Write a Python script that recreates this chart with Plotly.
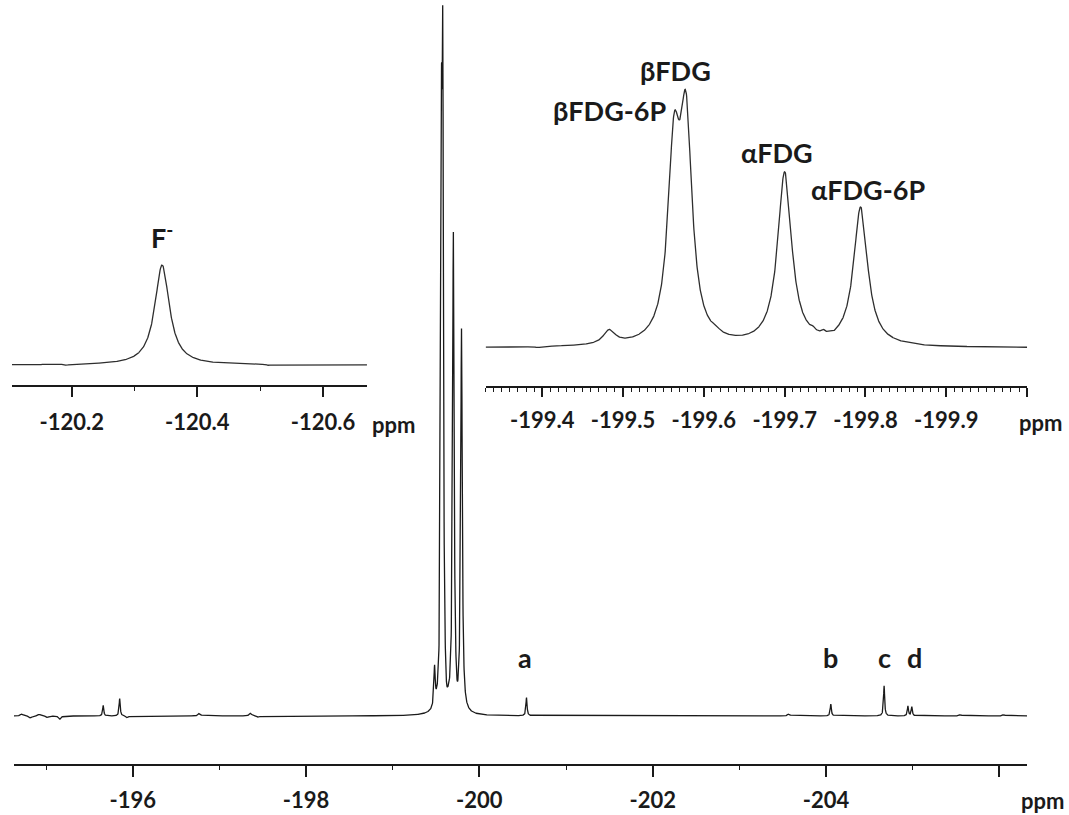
import numpy as np
import plotly.graph_objects as go

# ---------------- data ----------------
# FDG region peaks (shared by the main spectrum and the right inset)
# heights in units where the tallest (betaFDG) maximum = 100
fdg_ppm = [-199.483, -199.563, -199.578, -199.700, -199.794]
fdg_height = [5.5, 69.8, 81.5, 67.8, 54.3]
fdg_fwhm = [0.018, 0.018, 0.018, 0.021, 0.021]

# small extra features visible only in the right inset baseline
inset_ppm = [-199.395, -199.43, -199.615, -199.735, -199.748, -199.762, -199.88]
inset_height = [-0.4, 0.4, 1.2, 1.0, 1.1, -0.5, -0.3]
inset_fwhm = [0.008, 0.008, 0.010, 0.005, 0.005, 0.005, 0.01]

# other signals of the full spectrum (main panel)
main_ppm = [-194.72, -194.82, -194.92, -195.02, -195.16, -195.66, -195.85,
            -195.94, -196.77, -197.36, -197.45, -199.62, -199.745,
            -200.544, -203.57, -204.055, -204.67, -204.945, -204.99,
            -205.55, -206.05]
main_height = [0.3, -0.3, 0.25, -0.25, -0.45, 1.5, 2.5,
               -0.3, 0.4, 0.4, -0.2, -1.7, -1.3,
               2.6, 0.3, 1.7, 4.3, 1.4, 1.3,
               0.2, 0.2]
main_fwhm = [0.03, 0.03, 0.03, 0.03, 0.03, 0.015, 0.015,
             0.03, 0.03, 0.03, 0.03, 0.03, 0.03,
             0.015, 0.03, 0.015, 0.015, 0.015, 0.015,
             0.03, 0.03]

# fluoride signal (left inset)
f_ppm = [-120.344, -120.192, -120.513]
f_height = [100.0, -1.2, -1.0]
f_fwhm = [0.028, 0.006, 0.006]

# axis ticks
main_tick_vals = [-196, -198, -200, -202, -204, -206]
main_tick_text = ["-196", "-198", "-200", "-202", "-204", " "]
main_minor_vals = [-195, -197, -199, -201, -203, -205]

left_tick_vals = [-120.2, -120.4, -120.6]
left_tick_text = ["-120.2", "-120.4", "-120.6"]
left_minor_vals = [-120.3, -120.5]

right_tick_vals = [-199.4, -199.5, -199.6, -199.7, -199.8, -199.9, -200.0]
right_tick_text = ["-199.4", "-199.5", "-199.6", "-199.7", "-199.8", "-199.9", " "]

# peak labels
fdg_labels = ["βFDG", "βFDG-6P", "αFDG", "αFDG-6P"]
fdg_label_x = [-199.565, -199.483, -199.69, -199.803]
fdg_label_y = [109.2, 93.5, 77.0, 62.1]
main_labels = ["a", "b", "c", "d"]
main_label_x = [-200.53, -204.05, -204.67, -205.02]
main_label_y = [8.4, 8.4, 8.4, 8.4]

# axis ranges
main_range = [-194.63, -206.32]
left_range = [-120.105, -120.67]
right_range = [-199.33, -200.0]

# ---------------- building ----------------
def lorentz_sum(x, ppm, height, fwhm):
    y = np.zeros_like(x)
    for p, h, w in zip(ppm, height, fwhm):
        y += h / (1.0 + ((x - p) / (w / 2.0)) ** 2)
    return y

def grid(rng, n, centers):
    x = np.concatenate([np.linspace(rng[0], rng[1], n), np.array(centers)])
    x = x[(x <= max(rng)) & (x >= min(rng))]
    return np.sort(x)

all_main_ppm = fdg_ppm + main_ppm
all_main_h = fdg_height + main_height
all_main_w = fdg_fwhm + main_fwhm
xm = grid(main_range, 8000, all_main_ppm)
ym = lorentz_sum(xm, all_main_ppm, all_main_h, all_main_w)

all_in_ppm = fdg_ppm + inset_ppm
all_in_h = fdg_height + inset_height
all_in_w = fdg_fwhm + inset_fwhm
xr = grid(right_range, 2000, all_in_ppm)
yr = lorentz_sum(xr, all_in_ppm, all_in_h, all_in_w)

xl = grid(left_range, 1200, f_ppm)
yl = lorentz_sum(xl, f_ppm, f_height, f_fwhm)

W, H = 1069, 815
def px(x):
    return x / W
def py(y):
    return 1 - y / H

INK = "#1a1a1a"
FONT = "Lato, 'Noto Sans', sans-serif"
tickfont = dict(family=FONT, size=22, color=INK, weight="bold")
labfont = dict(family=FONT, size=27, color=INK, weight="bold")

fig = go.Figure()
fig.add_trace(go.Scatter(x=xm, y=ym, mode="lines", line=dict(color=INK, width=1.3),
                         xaxis="x", yaxis="y", hoverinfo="skip", showlegend=False))
fig.add_trace(go.Scatter(x=xl, y=yl, mode="lines", line=dict(color="#2e2e2e", width=1.3),
                         xaxis="x2", yaxis="y2", hoverinfo="skip", showlegend=False))
fig.add_trace(go.Scatter(x=xr, y=yr, mode="lines", line=dict(color="#2e2e2e", width=1.3),
                         xaxis="x3", yaxis="y3", hoverinfo="skip", showlegend=False))

def xax(domain, rng, anchor, tv, tt, minor, ticklen, standoff, dtick_minor=None):
    d = dict(domain=domain, range=rng, anchor=anchor, showline=True,
             linecolor=INK, linewidth=1.5, ticks="outside", ticklen=ticklen,
             tickwidth=1.5, tickcolor=INK, tickmode="array", tickvals=tv,
             ticktext=tt, tickfont=tickfont, ticklabelstandoff=standoff,
             showgrid=False, zeroline=False, fixedrange=True)
    if dtick_minor is not None:
        d["minor"] = dict(dtick=dtick_minor, tick0=-200.0, ticklen=4, tickwidth=1,
                          tickcolor=INK, ticks="outside", showgrid=False)
    else:
        d["minor"] = dict(tickmode="array", tickvals=minor, ticklen=4, tickwidth=1,
                          tickcolor=INK, ticks="outside", showgrid=False)
    return d

def yax(domain, rng):
    return dict(domain=domain, range=rng, visible=False, showgrid=False,
                zeroline=False, fixedrange=True)

fig.update_layout(
    width=W, height=H, margin=dict(l=0, r=0, t=0, b=0),
    paper_bgcolor="white", plot_bgcolor="rgba(0,0,0,0)",
    xaxis=xax([px(14), px(1030)], main_range, "y", main_tick_vals, main_tick_text,
              main_minor_vals, 11, 5),
    yaxis=yax([py(764), 1.0], [-6.85, 102.14]),
    xaxis2=xax([px(12), px(368)], left_range, "y2", left_tick_vals, left_tick_text,
               left_minor_vals, 10, 7),
    yaxis2=yax([py(385), py(200)], [-20, 165]),
    xaxis3=xax([px(487), px(1030)], right_range, "y3", right_tick_vals, right_tick_text,
               None, 9, 5, dtick_minor=0.01),
    yaxis3=yax([py(386), py(60)], [-14.93, 113.16]),
    showlegend=False,
)

ann = []
for t, x, y in zip(fdg_labels, fdg_label_x, fdg_label_y):
    ann.append(dict(text=t, x=x, y=y, xref="x3", yref="y3", showarrow=False,
                    font=labfont, xanchor="center", yanchor="middle"))
for t, x, y in zip(main_labels, main_label_x, main_label_y):
    ann.append(dict(text=t, x=x, y=y, xref="x", yref="y", showarrow=False,
                    font=labfont, xanchor="center", yanchor="middle"))
ann.append(dict(text="F<sup>-</sup>", x=f_ppm[0], y=129, xref="x2", yref="y2",
                showarrow=False, font=labfont, xanchor="center", yanchor="middle"))
for (xx, yy) in [(395, 424), (1043, 422), (1045, 800)]:
    ann.append(dict(text="ppm", x=px(xx), y=py(yy), xref="paper", yref="paper",
                    showarrow=False, font=tickfont, xanchor="center", yanchor="middle"))
fig.update_layout(annotations=ann)

fig.write_html("out.html", config={"displayModeBar": False},
               post_script="document.body.style.margin='0';"
               "document.body.style.overflow='hidden';")
